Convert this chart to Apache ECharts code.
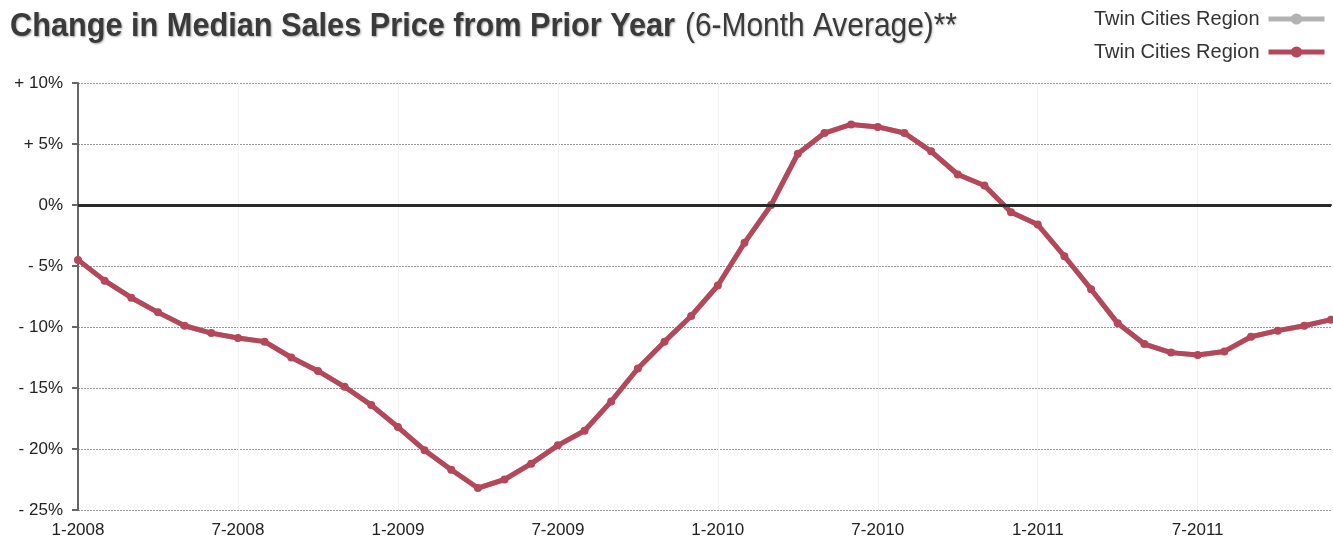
<!DOCTYPE html>
<html>
<head>
<meta charset="utf-8">
<script src="https://cdn.jsdelivr.net/npm/echarts@6/dist/echarts.min.js"></script>
<style>
html,body{margin:0;padding:0;background:#fff;}
#chart{width:1333px;height:539px;}
</style>
</head>
<body>
<div id="chart"></div>
<script>
// ---- data ----
const months = [];
for (let y = 2008; y <= 2011; y++) { for (let m = 1; m <= 12; m++) months.push(m + '-' + y); }

const twinCitiesRed = [
  -4.5, -6.2, -7.6, -8.8, -9.9, -10.5, -10.9, -11.2, -12.5, -13.6, -14.9, -16.4,
  -18.2, -20.1, -21.7, -23.2, -22.5, -21.2, -19.7, -18.5, -16.1, -13.4, -11.2, -9.1,
  -6.6, -3.1, 0.0, 4.2, 5.9, 6.6, 6.4, 5.9, 4.4, 2.5, 1.6, -0.6,
  -1.6, -4.2, -6.9, -9.7, -11.4, -12.1, -12.3, -12.0, -10.8, -10.3, -9.9, -9.4
];
const twinCitiesGray = twinCitiesRed.slice();

const yTicks = [10, 5, 0, -5, -10, -15, -20, -25];
const yTickLabels = ['+ 10%', '+ 5%', '0%', '- 5%', '- 10%', '- 15%', '- 20%', '- 25%'];
const seriesNames = ['Twin Cities Region (gray)', 'Twin Cities Region'];
const legendText = ['Twin Cities Region', 'Twin Cities Region'];
const titleBold = 'Change in Median Sales Price from Prior Year';
const titleNormal = '(6-Month Average)**';

const chart = echarts.init(document.getElementById('chart'));
const font = '"Liberation Sans", Arial, sans-serif';

// condensed title: measure and scale horizontally
const boldFont = 'bold 34px "Liberation Sans", Arial, sans-serif';
const normFont = 'normal 34px "Liberation Sans", Arial, sans-serif';
const cv = document.createElement('canvas').getContext('2d');
cv.font = boldFont; const wBold = cv.measureText(titleBold).width;
cv.font = normFont; const wNorm = cv.measureText(titleNormal).width;
const sBold = 665 / wBold, sNorm = 272 / wNorm;

chart.setOption({
  backgroundColor: '#ffffff',
  animation: false,
  graphic: [
    { type: 'text', x: 10, y: 10, scaleX: sBold, z: 10,
      style: { text: titleBold, font: boldFont, fill: '#3a3a3a', textVerticalAlign: 'top',
               textShadowColor: 'rgba(0,0,0,0.35)', textShadowBlur: 2, textShadowOffsetX: 1, textShadowOffsetY: 1 } },
    { type: 'text', x: 685, y: 10, scaleX: sNorm, z: 10,
      style: { text: titleNormal, font: normFont, fill: '#3a3a3a', textVerticalAlign: 'top',
               textShadowColor: 'rgba(0,0,0,0.25)', textShadowBlur: 2, textShadowOffsetX: 1, textShadowOffsetY: 1 } }
  ],
  legend: {
    orient: 'vertical', right: 1, top: 4, align: 'right',
    itemWidth: 56, itemHeight: 14, itemGap: 13,
    data: seriesNames,
    formatter: function (name) { return legendText[seriesNames.indexOf(name)]; },
    lineStyle: { width: 5 },
    textStyle: { fontFamily: font, fontSize: 20, color: '#333', padding: [0, 4, 0, 0] }
  },
  grid: { left: 78, right: 2, top: 83, bottom: 28, containLabel: false },
  xAxis: {
    type: 'category', data: months, boundaryGap: false,
    axisLine: { show: true, lineStyle: { color: '#333', width: 2 } },
    axisTick: { show: false },
    axisLabel: { interval: 5, fontFamily: font, fontSize: 17, color: '#222', margin: 12 },
    splitLine: { show: true, interval: 5, lineStyle: { color: '#f3f3f3', width: 1 } }
  },
  yAxis: {
    type: 'value', min: -25, max: 10, interval: 5,
    axisLine: { show: true, lineStyle: { color: '#666', width: 2 } },
    axisTick: { show: true, length: 6, lineStyle: { color: '#666', width: 2 } },
    axisLabel: { fontFamily: font, fontSize: 17, color: '#222', margin: 15,
      formatter: function (v) { const i = yTicks.indexOf(v); return i >= 0 ? yTickLabels[i] : ''; } },
    splitLine: { show: true, lineStyle: { color: '#999', width: 1, type: [2, 1] } }
  },
  series: [
    {
      name: seriesNames[0], type: 'line', data: twinCitiesGray,
      symbol: 'circle', symbolSize: 7,
      lineStyle: { color: '#b3b3b3', width: 5 }, itemStyle: { color: '#b3b3b3' },
      z: 1
    },
    {
      name: seriesNames[1], type: 'line', data: twinCitiesRed,
      symbol: 'circle', symbolSize: 8,
      lineStyle: { color: '#b5475b', width: 5 }, itemStyle: { color: '#b5475b' },
      markLine: {
        silent: true, symbol: 'none', label: { show: false },
        lineStyle: { color: '#2a2a2a', width: 3, type: 'solid' },
        data: [{ yAxis: 0 }]
      },
      z: 3
    }
  ]
});
</script>
</body>
</html>
